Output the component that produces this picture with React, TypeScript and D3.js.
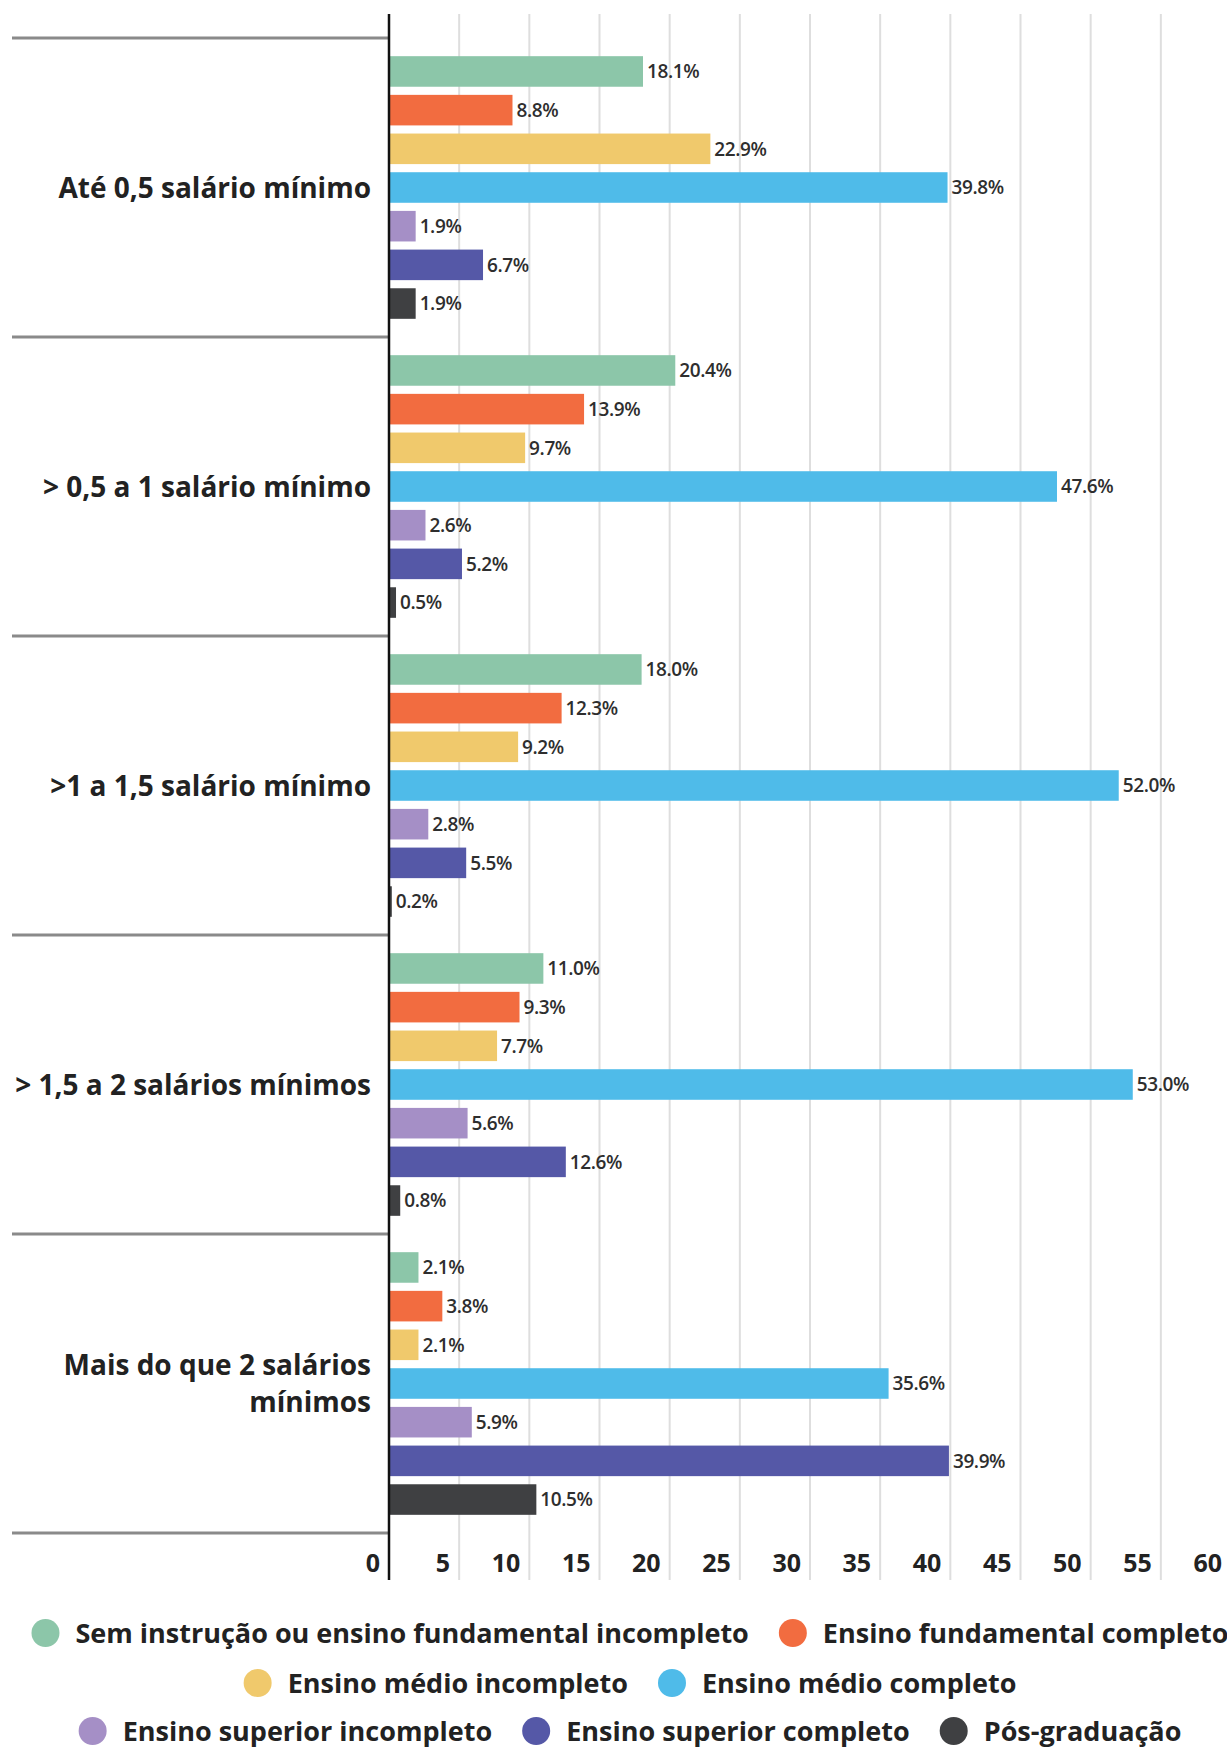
import { useEffect, useRef } from "react";
import * as d3 from "d3";

const categories = [
  ["Até 0,5 salário mínimo"],
  ["> 0,5 a 1 salário mínimo"],
  [">1 a 1,5 salário mínimo"],
  ["> 1,5 a 2 salários mínimos"],
  ["Mais do que 2 salários", "mínimos"],
];

const seriesNames = [
  "Sem instrução ou ensino fundamental incompleto",
  "Ensino fundamental completo",
  "Ensino médio incompleto",
  "Ensino médio completo",
  "Ensino superior incompleto",
  "Ensino superior completo",
  "Pós-graduação",
];

const seriesColors = [
  "#8cc6a9",
  "#f26c40",
  "#f0c96c",
  "#4fbbe9",
  "#a58fc6",
  "#5558a7",
  "#3f4042",
];

// one array per series, in category order
const semInstrucao = [18.1, 20.4, 18.0, 11.0, 2.1];
const fundCompleto = [8.8, 13.9, 12.3, 9.3, 3.8];
const medioIncompleto = [22.9, 9.7, 9.2, 7.7, 2.1];
const medioCompleto = [39.8, 47.6, 52.0, 53.0, 35.6];
const superiorIncompleto = [1.9, 2.6, 2.8, 5.6, 5.9];
const superiorCompleto = [6.7, 5.2, 5.5, 12.6, 39.9];
const posGraduacao = [1.9, 0.5, 0.2, 0.8, 10.5];

const seriesValues = [
  semInstrucao,
  fundCompleto,
  medioIncompleto,
  medioCompleto,
  superiorIncompleto,
  superiorCompleto,
  posGraduacao,
];

const xTicks = [0, 5, 10, 15, 20, 25, 30, 35, 40, 45, 50, 55, 60];

const legendRows = [[0, 1], [2, 3], [4, 5, 6]];

const WIDTH = 1227;
const HEIGHT = 1753;
const FONT = "'Open Sans', 'Noto Sans', sans-serif";

const App = () => {
  const svgRef = useRef<SVGSVGElement>(null);

  useEffect(() => {
    document.body.style.margin = "0";
    if (!svgRef.current) return;

    const svg = d3.select(svgRef.current);
    svg.selectAll("*").remove();

    const axisX = 389;
    const plotTop = 14;
    const plotBottom = 1580;

    const x = d3.scaleLinear().domain([0, 60]).range([axisX, 1231]);

    const y0 = d3
      .scaleBand<number>()
      .domain(d3.range(categories.length))
      .range([38, 1533]);

    const y1 = d3
      .scaleBand<number>()
      .domain(d3.range(seriesNames.length))
      .range([0, y0.bandwidth()])
      .paddingInner(0.21)
      .paddingOuter(0.47);

    // gridlines
    svg
      .append("g")
      .selectAll("line")
      .data(xTicks.filter((t) => t > 0))
      .join("line")
      .attr("x1", (d) => x(d))
      .attr("x2", (d) => x(d))
      .attr("y1", plotTop)
      .attr("y2", plotBottom)
      .attr("stroke", "#dedede")
      .attr("stroke-width", 2);

    // group separators
    svg
      .append("g")
      .selectAll("line")
      .data(d3.range(categories.length + 1))
      .join("line")
      .attr("x1", 12)
      .attr("x2", axisX)
      .attr("y1", (d) => (d < categories.length ? y0(d)! : y0.range()[1]))
      .attr("y2", (d) => (d < categories.length ? y0(d)! : y0.range()[1]))
      .attr("stroke", "#8a8a8a")
      .attr("stroke-width", 3);

    // bars
    const groups = svg
      .append("g")
      .selectAll("g")
      .data(categories.map((_, i) => i))
      .join("g")
      .attr("transform", (i) => `translate(0,${y0(i)})`);

    const cells = groups
      .selectAll("g")
      .data((i) => seriesValues.map((vals, s) => ({ s, v: vals[i] })))
      .join("g");

    cells
      .append("rect")
      .attr("x", axisX)
      .attr("y", (d) => y1(d.s)!)
      .attr("width", (d) => Math.max(2.5, x(d.v) - axisX))
      .attr("height", y1.bandwidth())
      .attr("fill", (d) => seriesColors[d.s]);

    cells
      .append("text")
      .attr("x", (d) => Math.max(axisX + 2.5, x(d.v)) + 4)
      .attr("y", (d) => y1(d.s)! + y1.bandwidth() / 2)
      .attr("dy", "0.36em")
      .attr("font-family", FONT)
      .attr("font-size", 19)
      .attr("font-weight", 600)
      .attr("letter-spacing", -0.4)
      .attr("fill", "#2e2e2e")
      .text((d) => `${d.v.toFixed(1)}%`);

    // category labels
    groups.each(function (i) {
      const lines = categories[i];
      const cy = y0.bandwidth() / 2;
      const lh = 37;
      const t = d3
        .select(this)
        .append("text")
        .attr("text-anchor", "end")
        .attr("font-family", FONT)
        .attr("font-size", 28)
        .attr("font-weight", 700)
        .attr("fill", "#222");
      lines.forEach((line, k) => {
        t.append("tspan")
          .attr("x", 371)
          .attr("y", cy + (k - (lines.length - 1) / 2) * lh)
          .attr("dy", "0.36em")
          .text(line);
      });
    });

    // y axis line
    svg
      .append("line")
      .attr("x1", axisX)
      .attr("x2", axisX)
      .attr("y1", plotTop)
      .attr("y2", plotBottom)
      .attr("stroke", "#111")
      .attr("stroke-width", 2.5);

    // x tick labels
    svg
      .append("g")
      .selectAll("text")
      .data(xTicks)
      .join("text")
      .attr("x", (d) => x(d) - 9)
      .attr("y", 1572)
      .attr("text-anchor", "end")
      .attr("font-family", FONT)
      .attr("font-size", 25)
      .attr("font-weight", 700)
      .attr("fill", "#222")
      .text((d) => d3.format("d")(d));

    // legend
    const legendY = [1633, 1683, 1731];
    const legendCenter = 630;
    const r = 14;
    const textGap = 30;
    const itemGap = 44;

    legendRows.forEach((row, ri) => {
      const g = svg.append("g");
      let cursor = 0;
      const items = row.map((s) => {
        const item = g.append("g");
        item
          .append("circle")
          .attr("cx", 0)
          .attr("cy", 0)
          .attr("r", r)
          .attr("fill", seriesColors[s]);
        const label = item
          .append("text")
          .attr("x", textGap)
          .attr("dy", "0.36em")
          .attr("font-family", FONT)
          .attr("font-size", 27)
          .attr("font-weight", 700)
          .attr("fill", "#222")
          .text(seriesNames[s]);
        const w = (label.node() as SVGTextElement).getComputedTextLength();
        return { item, w };
      });
      items.forEach(({ item, w }, k) => {
        if (k > 0) cursor += itemGap;
        item.attr("transform", `translate(${cursor + r},0)`);
        cursor += textGap + w;
      });
      const total = cursor + r;
      g.attr(
        "transform",
        `translate(${legendCenter - total / 2},${legendY[ri]})`,
      );
    });
  }, []);

  return (
    <svg
      ref={svgRef}
      width={WIDTH}
      height={HEIGHT}
      style={{ display: "block", background: "#fff" }}
    />
  );
};

export default App;
